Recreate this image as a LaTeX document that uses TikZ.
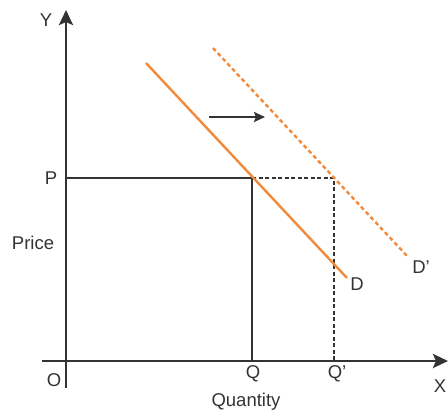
\documentclass[tikz,border=0pt]{standalone}
\usepackage{fontspec}
\setmainfont{Liberation Sans}
\usetikzlibrary{arrows.meta}
\definecolor{ax}{HTML}{333333}
\definecolor{curve}{HTML}{F28A3C}
\begin{document}
\begin{tikzpicture}[x=1pt,y=-1pt,
  axis/.style={draw=ax,line width=2.8pt,-{Stealth[length=15pt,width=14pt,inset=3pt]}},
  guide/.style={draw=ax,line width=2.3pt},
  guidedash/.style={draw=ax,line width=2.3pt,dash pattern=on 4pt off 2.5pt},
  dcurve/.style={draw=curve,line width=2.4pt},
  dcurvedash/.style={draw=curve,line width=2.4pt,dash pattern=on 4pt off 3pt},
  lab/.style={text=ax,font=\fontsize{18.5}{21}\selectfont,inner sep=0pt}]
\useasboundingbox (0,0) rectangle (448,413);
% coordinates
\coordinate (O) at (66,361);
\coordinate (Ytop) at (66,10);
\coordinate (Ybot) at (66,388);
\coordinate (Xleft) at (42,361);
\coordinate (Xright) at (448,361);
\coordinate (Pp) at (66,178);
\coordinate (E1) at (252,178);
\coordinate (E2) at (334,178);
\coordinate (Qp) at (252,361);
\coordinate (Q2p) at (334,361);
\coordinate (D1) at (146,63);
\coordinate (D2) at (347,278);
\coordinate (Dp1) at (213,48);
\coordinate (Dp2) at (408,257);
\coordinate (A1) at (209,117);
\coordinate (A2) at (265,117);
% axes
\draw[axis] (Ybot) -- (Ytop);
\draw[axis] (Xleft) -- (Xright);
% guides
\draw[guide] (Pp) -- (E1) -- (Qp);
\draw[guidedash] (E1) -- (E2) -- (Q2p);
% demand curves
\draw[dcurve] (D1) -- (D2);
\draw[dcurvedash] (Dp1) -- (Dp2);
% shift arrow
\draw[draw=ax,line width=2.2pt,-{Stealth[length=11pt,width=10pt,inset=2pt]}] (A1) -- (A2);
% labels
\node[lab] (ylab) at (46,20) {Y};
\node[lab] (xlab) at (440,386) {X};
\node[lab] (olab) at (54,380) {O};
\node[lab] (plab) at (51,178) {P};
\node[lab] (pricelab) at (33,243) {Price};
\node[lab] (qlab) at (253,374) {Q};
\node[lab] (q2lab) at (337,374) {Q’};
\node[lab] (quantlab) at (246,402) {Quantity};
\node[lab] (dlab) at (357,284) {D};
\node[lab] (d2lab) at (421,267) {D’};
\end{tikzpicture}
\end{document}
